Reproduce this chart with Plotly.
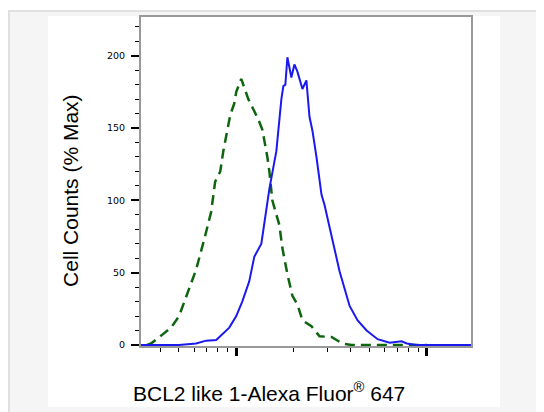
import plotly.graph_objects as go

# Isotype control (green dashed)
iso_x = [340, 357, 408, 455, 501, 552, 615, 679, 738, 775, 824, 855, 897, 930, 976, 1000,
         1062, 1157, 1229, 1305, 1370, 1421, 1456, 1492, 1546, 1683, 1746, 1855, 1971, 2094,
         2225, 2482, 2734, 3162, 3614, 4029, 6000, 10000]
iso_y = [0, 1, 7, 12, 20, 35, 52, 73, 92, 113, 120, 134, 150, 159, 167, 175,
         184, 170, 163, 156, 149, 139, 130, 120, 100, 83, 67, 49, 34, 28,
         17, 13, 6, 5.5, 1, 0, 0, 0]

# BCL2L1 stained (blue solid)
pos_x = [316, 501, 615, 695, 785, 834, 919, 1000, 1075, 1170, 1243, 1354, 1404, 1492, 1623,
         1683, 1725, 1767, 1810, 1855, 1946, 2019, 2094, 2225, 2334, 2422, 2512, 2636, 2801,
         2904, 3125, 3484, 3935, 4335, 4832, 5521, 6383, 7383, 7851, 8854, 17050]
pos_y = [0, 0, 1, 3, 3.5, 7, 12, 20, 30, 44, 61, 70, 85, 108, 134,
         159, 170, 179, 180, 199, 185, 194, 189, 177, 183, 158, 148, 130, 104,
         97, 79, 51, 27, 17, 10, 4, 1.5, 2.5, 1, 0, 0]

y_major = [0, 50, 100, 150, 200]
x_major = [1000, 10000]
x_minor = [400, 500, 600, 700, 800, 900, 2000, 3000, 4000, 5000, 6000, 7000, 8000, 9000]

fig = go.Figure()
fig.add_trace(go.Scatter(x=iso_x, y=iso_y, mode="lines",
                         line=dict(color="#0f650f", width=2.5, dash="10px,6px"),
                         showlegend=False))
fig.add_trace(go.Scatter(x=pos_x, y=pos_y, mode="lines",
                         line=dict(color="#1a1aee", width=2),
                         showlegend=False))

# page has an 8px body margin; work in reference-pixel coordinates and shift
OFF = 8
W, H = 544 - OFF, 412 - OFF
L, R, T, B = 141 - OFF, 471 - OFF, 15 - OFF, 346 - OFF
pw, ph = R - L, B - T


def px(x):
    return (x - OFF - L) / pw


def py(y):
    return (B - (y - OFF)) / ph


shapes = [
    dict(type="rect", xref="paper", yref="paper", layer="below",
         x0=px(OFF + 1), x1=px(560), y0=py(430), y1=py(OFF + 1),
         fillcolor="#f5f5f5", line=dict(color="#e0e0e0", width=2)),
    dict(type="rect", xref="paper", yref="paper", layer="below",
         x0=px(48), x1=px(500), y0=py(407), y1=py(14),
         fillcolor="#ffffff", line=dict(width=0)),
]

annotations = [
    dict(text="BCL2 like 1-Alexa Fluor<sup>®</sup> 647", xref="paper", yref="paper",
         x=px(269), y=py(392), xanchor="center", yanchor="middle", showarrow=False,
         font=dict(family="Liberation Sans, Arial", size=21, color="#000")),
    dict(text="Cell Counts (% Max)", xref="paper", yref="paper",
         x=px(71), y=py(190), xanchor="center", yanchor="middle", showarrow=False,
         textangle=-90,
         font=dict(family="Liberation Sans, Arial", size=21, color="#000")),
]

fig.update_layout(
    width=W, height=H,
    margin=dict(l=L, r=W - R, t=T, b=H - B, pad=0),
    paper_bgcolor="#ffffff", plot_bgcolor="#ffffff",
    shapes=shapes, annotations=annotations,
    xaxis=dict(type="log", range=[2.5, 4.232], tickmode="array", tickvals=x_major,
               showticklabels=False, ticks="outside", ticklen=8, tickwidth=3,
               tickcolor="#000", showgrid=False, zeroline=False,
               showline=True, linecolor="#999999", linewidth=2, mirror=True,
               minor=dict(tickmode="array", tickvals=x_minor, ticks="outside",
                          ticklen=4, tickwidth=1, tickcolor="#000", showgrid=False)),
    yaxis=dict(range=[-0.7, 226.8], tickmode="array", tickvals=y_major,
               ticks="outside", ticklen=8, tickwidth=2, tickcolor="#000",
               tickfont=dict(family="DejaVu Sans", size=9.5, color="#000"),
               ticklabelstandoff=4,
               showgrid=False, zeroline=False,
               showline=True, linecolor="#999999", linewidth=2, mirror=True,
               minor=dict(dtick=10, tick0=0, ticks="outside", ticklen=4, tickwidth=1,
                          tickcolor="#000", showgrid=False)),
)

fig.write_html("out.html")
